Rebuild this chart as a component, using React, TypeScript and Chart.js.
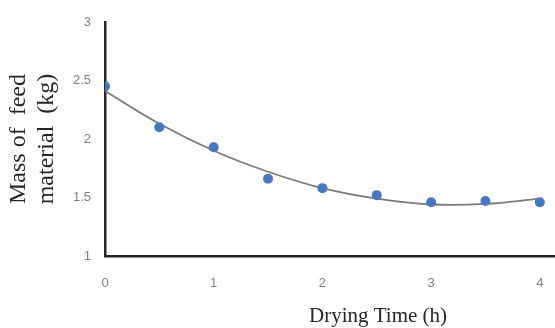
import { useEffect, useRef } from "react";
import { Chart, registerables } from "chart.js";

Chart.register(...registerables);

const dryingTime = [0, 0.5, 1, 1.5, 2, 2.5, 3, 3.5, 4];
const feedMass = [2.45, 2.1, 1.93, 1.66, 1.58, 1.52, 1.46, 1.47, 1.46];
const trendTime = [0, 0.5, 1, 1.5, 2, 2.5, 3, 3.5, 4];
const trendMass = [2.41, 2.13, 1.9, 1.72, 1.58, 1.49, 1.44, 1.445, 1.49];
const xTicks = [0, 1, 2, 3, 4];
const yTicks = [1, 1.5, 2, 2.5, 3];
const xTitle = "Drying Time (h)";
const yTitle = ["Mass of  feed", "material  (kg)"];

const xTitlePlugin = {
  id: "xTitlePlugin",
  afterDraw(chart: any) {
    const ctx = chart.ctx;
    ctx.save();
    ctx.font = '21px "Liberation Serif", serif';
    ctx.fillStyle = "#262626";
    ctx.textAlign = "center";
    ctx.textBaseline = "middle";
    ctx.fillText(xTitle, 378, 316);
    ctx.restore();
  },
};

export default function App() {
  const ref = useRef<HTMLCanvasElement | null>(null);
  useEffect(() => {
    document.body.style.margin = "0";
    const canvas = ref.current;
    if (!canvas) return;
    const chart = new Chart(canvas, {
      type: "scatter",
      data: {
        datasets: [
          {
            type: "scatter",
            data: dryingTime.map((x, i) => ({ x, y: feedMass[i] })),
            backgroundColor: "#4677c2",
            borderColor: "#4677c2",
            pointRadius: 5,
            pointBorderWidth: 0,
          },
          {
            type: "line",
            data: trendTime.map((x, i) => ({ x, y: trendMass[i] })),
            borderColor: "#7a7a7a",
            borderWidth: 1.8,
            pointRadius: 0,
            tension: 0.4,
            fill: false,
          } as any,
        ],
      },
      options: {
        animation: false,
        responsive: false,
        layout: { autoPadding: false, padding: { top: 22, right: 0, left: 0, bottom: 0 } },
        plugins: {
          legend: { display: false },
          tooltip: { enabled: false },
        },
        scales: {
          x: {
            type: "linear",
            min: 0,
            max: 4.14,
            grid: { display: false, drawTicks: false },
            border: { display: true, color: "#262626", width: 2.5 },
            afterBuildTicks: (s: any) => {
              s.ticks = xTicks.map((v) => ({ value: v }));
            },
            afterFit: (s: any) => {
              s.height = 72;
              s.paddingLeft = 0;
              s.paddingRight = 0;
            },
            ticks: {
              color: "#808080",
              font: { family: '"Liberation Sans", sans-serif', size: 13 },
              padding: 20,
              maxRotation: 0,
              callback: (v: any) => String(v),
            },
          },
          y: {
            type: "linear",
            min: 1,
            max: 3,
            grid: { display: false, drawTicks: false },
            border: { display: true, color: "#262626", width: 2.5 },
            afterBuildTicks: (s: any) => {
              s.ticks = yTicks.map((v) => ({ value: v }));
            },
            afterFit: (s: any) => {
              s.width = 105;
            },
            ticks: {
              color: "#808080",
              font: { family: '"Liberation Sans", sans-serif', size: 13 },
              padding: 14,
              callback: (v: any) => String(v),
            },
            title: {
              display: true,
              text: yTitle,
              color: "#262626",
              font: { family: '"Liberation Serif", serif', size: 24, lineHeight: 1.17 },
              padding: { top: 5, bottom: 0 },
            },
          },
        },
      },
      plugins: [xTitlePlugin],
    });
    return () => chart.destroy();
  }, []);
  return (
    <canvas
      ref={ref}
      width={555}
      height={328}
      style={{ display: "block", width: 555, height: 328 }}
    />
  );
}
